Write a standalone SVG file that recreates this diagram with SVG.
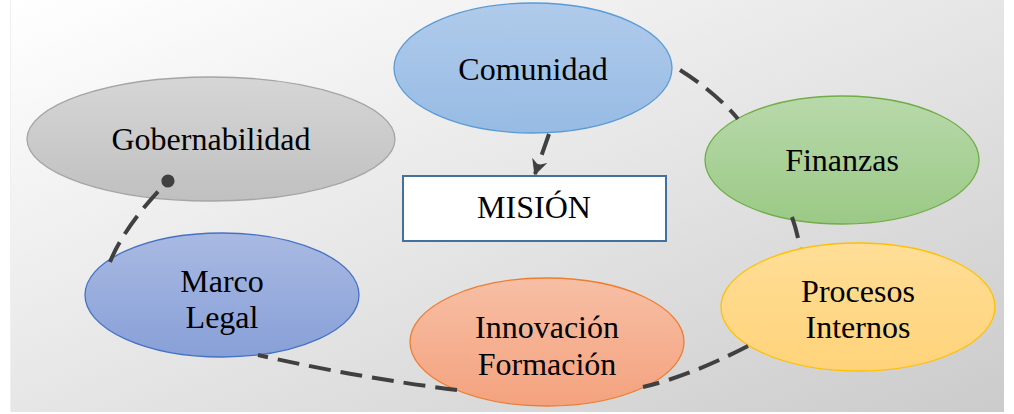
<svg xmlns="http://www.w3.org/2000/svg" width="1014" height="414" viewBox="0 0 1014 414">
<style>
.lbl{font-family:"Liberation Serif","Times New Roman",serif;font-size:32px;fill:#000;text-anchor:middle}
.con{fill:none;stroke:#404040;stroke-width:4;stroke-dasharray:22 10}
</style>
<defs>
<linearGradient id="bg" x1="0" y1="0" x2="1" y2="1">
<stop offset="0" stop-color="#ffffff"/><stop offset="0.5" stop-color="#e6e6e6"/><stop offset="1" stop-color="#cbcbcb"/>
</linearGradient>
<linearGradient id="gBlue" x1="0" y1="0" x2="0" y2="1"><stop offset="0" stop-color="#b0cbeb"/><stop offset="1" stop-color="#97bbe4"/></linearGradient>
<linearGradient id="gGray" x1="0" y1="0" x2="0" y2="1"><stop offset="0" stop-color="#d6d6d6"/><stop offset="1" stop-color="#c0c0c0"/></linearGradient>
<linearGradient id="gNavy" x1="0" y1="0" x2="0" y2="1"><stop offset="0" stop-color="#a9b9e2"/><stop offset="1" stop-color="#88a0d8"/></linearGradient>
<linearGradient id="gGreen" x1="0" y1="0" x2="0" y2="1"><stop offset="0" stop-color="#b8d9aa"/><stop offset="1" stop-color="#9bc986"/></linearGradient>
<linearGradient id="gYellow" x1="0" y1="0" x2="0" y2="1"><stop offset="0" stop-color="#ffde97"/><stop offset="1" stop-color="#ffd37a"/></linearGradient>
<linearGradient id="gOrange" x1="0" y1="0" x2="0" y2="1"><stop offset="0" stop-color="#f7bfa5"/><stop offset="1" stop-color="#f4a27e"/></linearGradient>
<marker id="arr" viewBox="0 0 10 10" refX="9" refY="5" markerWidth="4" markerHeight="4" orient="auto" markerUnits="strokeWidth">
<path d="M0,0 L10,5 L0,10 L3,5 Z" fill="#404040"/>
</marker>
<marker id="dot" viewBox="0 0 10 10" refX="5" refY="5" markerWidth="3.3" markerHeight="3.3" orient="auto" markerUnits="strokeWidth">
<circle cx="5" cy="5" r="5" fill="#404040"/>
</marker>
</defs>
<rect x="10" y="0" width="994" height="412" fill="url(#bg)"/>
<line x1="10.5" y1="0" x2="10.5" y2="412" stroke="#f0f0f0" stroke-width="1"/>

<g id="n-comunidad">
<ellipse cx="533" cy="68" rx="139" ry="65" fill="url(#gBlue)" stroke="#5b9bd5" stroke-width="1.3"/>
<text class="lbl" x="533" y="80">Comunidad</text>
</g>
<g id="n-gobernabilidad">
<ellipse cx="211" cy="139" rx="184" ry="62" fill="url(#gGray)" stroke="#a5a5a5" stroke-width="1.3"/>
<text class="lbl" x="211" y="150">Gobernabilidad</text>
</g>
<g id="n-mision">
<rect x="403" y="176" width="263" height="65" fill="#ffffff" stroke="#41719c" stroke-width="2"/>
<text class="lbl" x="534" y="218">MISIÓN</text>
</g>
<g id="n-finanzas">
<ellipse cx="842" cy="160" rx="137" ry="64" fill="url(#gGreen)" stroke="#70ad47" stroke-width="1.3"/>
<text class="lbl" x="842" y="171">Finanzas</text>
</g>
<g id="n-procesos">
<ellipse cx="858" cy="307" rx="137" ry="64" fill="url(#gYellow)" stroke="#ffc000" stroke-width="1.3"/>
<text class="lbl" x="858" y="302">Procesos</text>
<text class="lbl" x="858" y="338">Internos</text>
</g>
<g id="n-innovacion">
<ellipse cx="547" cy="342" rx="137" ry="64" fill="url(#gOrange)" stroke="#ed7d31" stroke-width="1.3"/>
<text class="lbl" x="547" y="338">Innovación</text>
<text class="lbl" x="547" y="375">Formación</text>
</g>
<g id="n-marco">
<ellipse cx="222" cy="295" rx="137" ry="62" fill="url(#gNavy)" stroke="#4472c4" stroke-width="1.3"/>
<text class="lbl" x="222" y="292">Marco</text>
<text class="lbl" x="222" y="328">Legal</text>
</g>

<g id="connectors">
<path class="con" d="M549,134 L535,174" marker-end="url(#arr)"/>
<path class="con" d="M680,70 Q715,92 738,119"/>
<path class="con" d="M792,217 Q797,231 800,248"/>
<path class="con" d="M748,346 Q690,376 643,387"/>
<path class="con" d="M457,390 Q360,378 258,355"/>
<path class="con" d="M110,262 Q125,225 168,181" marker-end="url(#dot)"/>
</g>
</svg>
